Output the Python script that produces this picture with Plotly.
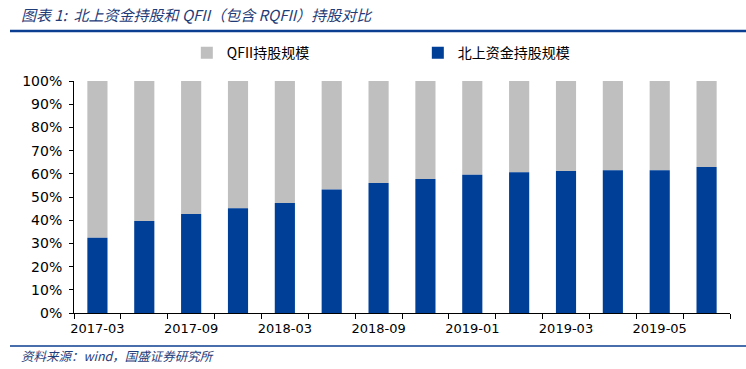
import plotly.graph_objects as go

categories = ["2017-03", "2017-06", "2017-09", "2017-12", "2018-03", "2018-06", "2018-09",
              "2018-12", "2019-01", "2019-02", "2019-03", "2019-04", "2019-05", "2019-06"]
tick_labels = ["2017-03", "", "2017-09", "", "2018-03", "", "2018-09",
               "", "2019-01", "", "2019-03", "", "2019-05", ""]
northbound = [32.4, 39.7, 42.7, 45.2, 47.4, 53.2, 56.0, 57.8, 59.6, 60.7, 61.2, 61.5, 61.5, 62.9]
qfii = [100 - v for v in northbound]

BLUE = "#003F97"
GRAY = "#BFBFBF"
TXT_BLUE = "#1F3C78"

fig = go.Figure()
fig.add_trace(go.Bar(x=categories, y=qfii, base=northbound, name="QFII持股规模",
                     marker=dict(color=GRAY, line=dict(width=0))))
fig.add_trace(go.Bar(x=categories, y=northbound, base=0, name="北上资金持股规模",
                     marker=dict(color=BLUE, line=dict(width=0))))

fig.update_layout(
    width=746, height=369,
    margin=dict(l=74, r=16, t=81, b=56, autoexpand=False),
    plot_bgcolor="white", paper_bgcolor="white",
    barmode="overlay", bargap=0.57,
    font=dict(family="DejaVu Sans", size=13, color="black"),
    showlegend=True,
    legend=dict(orientation="h", x=0.172, xanchor="left", y=1.12, yanchor="middle",
                font=dict(family="Noto Sans CJK SC", size=14, color="black"),
                entrywidth=186, entrywidthmode="pixels", traceorder="normal",
                bgcolor="rgba(0,0,0,0)"),
    xaxis=dict(type="category", tickmode="array", tickvals=categories, ticktext=tick_labels,
               tickson="boundaries", ticks="outside", ticklen=5, tickcolor="black",
               showline=True, linecolor="black", linewidth=1, showgrid=False,
               tickangle=0, tickfont=dict(size=13), automargin=False, ticklabelstandoff=3),
    yaxis=dict(range=[0, 100], tickvals=list(range(0, 101, 10)),
               ticktext=[f"{v}%" for v in range(0, 101, 10)],
               ticks="outside", ticklen=4, tickcolor="black",
               showline=True, linecolor="black", linewidth=1, showgrid=False,
               zeroline=False, tickfont=dict(size=14), automargin=False, ticklabelstandoff=4),
)

fig.add_annotation(text="图表 1:  北上资金持股和 QFII（包含 RQFII）持股对比",
                   xref="paper", yref="paper", x=(19 - 74) / 656, y=(313 - 14) / 232,
                   xanchor="left", yanchor="middle", showarrow=False,
                   font=dict(family="Noto Sans CJK SC", size=15, color=TXT_BLUE, style="italic"),
                   )
fig.add_annotation(text="资料来源：wind，国盛证券研究所",
                   xref="paper", yref="paper", x=(19 - 74) / 656, y=(313 - 355) / 232,
                   xanchor="left", yanchor="middle", showarrow=False,
                   font=dict(family="Noto Sans CJK SC", size=12.5, color=TXT_BLUE, style="italic"))

fig.add_shape(type="line", xref="paper", yref="paper",
              x0=(10 - 74) / 656, x1=(746 - 74) / 656, y0=(313 - 31) / 232, y1=(313 - 31) / 232,
              line=dict(color="#0B3E91", width=2.5))
fig.add_shape(type="line", xref="paper", yref="paper",
              x0=(10 - 74) / 656, x1=(746 - 74) / 656, y0=(313 - 346) / 232, y1=(313 - 346) / 232,
              line=dict(color="#0B3E91", width=1.5))

fig.write_html("out.html", config={"displayModeBar": False},
               post_script="document.body.style.margin='0';document.body.style.padding='0';")
